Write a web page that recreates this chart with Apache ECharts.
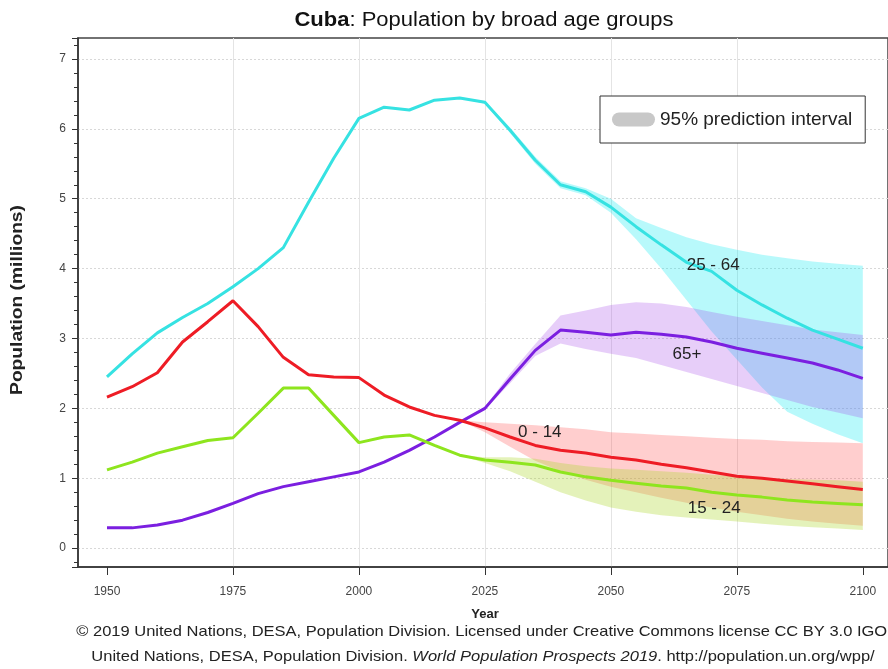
<!DOCTYPE html>
<html><head><meta charset="utf-8">
<script src="https://cdn.jsdelivr.net/npm/echarts@6/dist/echarts.min.js"></script>
<style>html,body{margin:0;padding:0;background:#fff}#c{width:888px;height:669px}</style>
</head><body><div id="c"></div>
<script>
// ---- data ----
const years = [1950,1955,1960,1965,1970,1975,1980,1985,1990,1995,2000,2005,2010,2015,2020,2025,2030,2035,2040,2045,2050,2055,2060,2065,2070,2075,2080,2085,2090,2095,2100];
const age0_14  = [2.16,2.31,2.51,2.95,3.24,3.54,3.17,2.73,2.48,2.45,2.44,2.19,2.02,1.90,1.83,1.72,1.59,1.47,1.40,1.36,1.30,1.26,1.20,1.15,1.09,1.03,1.00,0.96,0.92,0.88,0.84];
const age15_24 = [1.12,1.23,1.36,1.45,1.54,1.58,1.93,2.29,2.29,1.90,1.51,1.59,1.62,1.47,1.33,1.26,1.23,1.19,1.09,1.02,0.97,0.93,0.89,0.86,0.80,0.76,0.73,0.69,0.66,0.64,0.62];
const age25_64 = [2.45,2.78,3.08,3.30,3.50,3.74,4.00,4.30,4.95,5.58,6.15,6.31,6.27,6.41,6.44,6.38,5.98,5.55,5.20,5.10,4.88,4.60,4.34,4.09,3.96,3.69,3.48,3.29,3.12,2.99,2.86];
const age65    = [0.29,0.29,0.33,0.40,0.51,0.64,0.78,0.88,0.95,1.02,1.09,1.23,1.40,1.59,1.80,2.00,2.42,2.83,3.12,3.09,3.05,3.09,3.06,3.02,2.95,2.86,2.79,2.72,2.65,2.55,2.43];

const bandYears = [2020,2025,2030,2035,2040,2045,2050,2055,2060,2065,2070,2075,2080,2085,2090,2095,2100];
const pi25_64_hi = [6.44,6.40,6.02,5.60,5.25,5.15,5.00,4.72,4.58,4.45,4.35,4.27,4.20,4.15,4.10,4.07,4.04];
const pi25_64_lo = [6.44,6.36,5.94,5.50,5.15,5.05,4.80,4.42,4.00,3.55,3.10,2.70,2.30,1.95,1.78,1.63,1.50];
const pi65_hi    = [1.80,2.02,2.50,2.92,3.33,3.40,3.48,3.52,3.50,3.45,3.38,3.31,3.25,3.19,3.13,3.09,3.05];
const pi65_lo    = [1.80,1.98,2.36,2.75,2.93,2.85,2.78,2.72,2.62,2.52,2.42,2.32,2.22,2.12,2.02,1.94,1.86];
const pi0_14_hi  = [1.83,1.80,1.78,1.76,1.73,1.70,1.66,1.64,1.62,1.60,1.58,1.56,1.55,1.53,1.52,1.51,1.50];
const pi0_14_lo  = [1.83,1.66,1.45,1.25,1.10,0.98,0.88,0.80,0.72,0.65,0.58,0.52,0.47,0.42,0.38,0.35,0.32];
const pi15_24_hi = [1.33,1.30,1.30,1.28,1.22,1.17,1.14,1.12,1.10,1.08,1.05,1.03,1.01,0.99,0.98,0.97,0.95];
const pi15_24_lo = [1.33,1.22,1.10,0.95,0.80,0.68,0.58,0.52,0.47,0.44,0.41,0.38,0.35,0.32,0.30,0.28,0.26];

const xTicks = [1950,1975,2000,2025,2050,2075,2100];
const seriesNames = ['0 - 14','15 - 24','25 - 64','65+'];
const legendName = '95% prediction interval';
const titleBold = 'Cuba';
const titleRest = ': Population by broad age groups';
const yName = 'Population (millions)';
const xName = 'Year';
const footer1 = '\u00a9 2019 United Nations, DESA, Population Division. Licensed under Creative Commons license CC BY 3.0 IGO.';
const footer2a = 'United Nations, DESA, Population Division. ';
const footer2b = 'World Population Prospects 2019';
const footer2c = '. http://population.un.org/wpp/';

// ---- chart ----
const FF = 'Liberation Sans, Arial, sans-serif';
const pairs = arr => years.map((y, i) => [y, arr[i]]);

function band(name, lo, hi, color) {
  return {
    type: 'custom', name: name, silent: true, z: 1, clip: true,
    data: [[2050, 3]],
    renderItem: function (params, api) {
      const pts = [];
      for (let i = 0; i < bandYears.length; i++) pts.push(api.coord([bandYears[i], hi[i]]));
      for (let i = bandYears.length - 1; i >= 0; i--) pts.push(api.coord([bandYears[i], lo[i]]));
      return { type: 'polygon', shape: { points: pts }, style: { fill: color } };
    }
  };
}
function line(name, arr, color, at) {
  return {
    type: 'line', name: name, data: pairs(arr), showSymbol: false, z: 3,
    lineStyle: { color: color, width: 3 }, itemStyle: { color: color },
    markPoint: {
      symbol: 'circle', symbolSize: 0, silent: true,
      data: [{ coord: at }],
      label: { show: true, position: 'inside', formatter: name, color: '#222', fontSize: 17, fontFamily: FF }
    }
  };
}

const chart = echarts.init(document.getElementById('c'), null, { renderer: 'canvas' });
chart.setOption({
  animation: false,
  backgroundColor: '#fff',
  grid: { left: 78, right: 0, top: 38, bottom: 102, show: true, borderColor: '#444', borderWidth: 1.5, backgroundColor: 'transparent' },
  legend: {
    left: 600, top: 96, orient: 'horizontal',
    padding: [14, 13, 14, 12],
    borderColor: '#333', borderWidth: 1, backgroundColor: '#fff',
    itemWidth: 43, itemHeight: 14,
    data: [{ name: legendName, icon: 'path://M7,0 L36,0 A7,7 0 0 1 36,14 L7,14 A7,7 0 0 1 7,0 Z' }],
    textStyle: { fontSize: 19, color: '#222', fontFamily: FF },
    selectedMode: false
  },
  xAxis: {
    type: 'value', min: 1944.25, max: 2105,
    axisLine: { show: true, onZero: false, lineStyle: { color: '#333', width: 1.5 } },
    axisTick: { show: true, customValues: xTicks, length: 8, lineStyle: { color: '#333' } },
    axisLabel: { customValues: xTicks, color: '#444', fontSize: 12, fontFamily: FF, margin: 19, formatter: v => String(v) },
    splitLine: { show: true, showMinLine: false, showMaxLine: false, lineStyle: { color: '#e4e4e4', width: 1 } }
  },
  yAxis: {
    type: 'value', min: -0.27, max: 7.3, splitNumber: 8,
    axisLine: { show: true, lineStyle: { color: '#333', width: 1.5 } },
    axisTick: { show: true, length: 6, lineStyle: { color: '#333' } },
    minorTick: { show: true, splitNumber: 5, length: 4, lineStyle: { color: '#333' } },
    axisLabel: {
      color: '#444', fontSize: 12, fontFamily: FF, margin: 12,
      formatter: v => (Math.abs(v - Math.round(v)) < 1e-6 ? String(Math.round(v)) : '')
    },
    splitLine: { show: true, showMinLine: false, showMaxLine: false, lineStyle: { color: '#d8d8d8', type: [2, 2] } }
  },
  graphic: [
    { type: 'text', x: 484, y: 20, scaleX: 1.1, silent: true,
      style: { text: '{b|' + titleBold + '}' + titleRest, align: 'center', verticalAlign: 'middle',
        fontSize: 20, fontFamily: FF, fill: '#111',
        rich: { b: { fontWeight: 'bold', fontSize: 20, fontFamily: FF, fill: '#111' } } } },
    { type: 'text', x: 18, y: 300, rotation: Math.PI / 2, scaleX: 1.2, silent: true,
      style: { text: yName, align: 'center', verticalAlign: 'middle', fontSize: 16, fontWeight: 'bold', fontFamily: FF, fill: '#222' } },
    { type: 'text', x: 485, y: 614, silent: true,
      style: { text: xName, align: 'center', verticalAlign: 'middle', fontSize: 13, fontWeight: 'bold', fontFamily: FF, fill: '#222' } },
    { type: 'text', x: 484, y: 632, scaleX: 1.1, silent: true,
      style: { text: footer1, align: 'center', verticalAlign: 'middle', fontSize: 15, fontFamily: FF, fill: '#222' } },
    { type: 'text', x: 483, y: 657, scaleX: 1.1, silent: true,
      style: { text: footer2a + '{i|' + footer2b + '}' + footer2c, align: 'center', verticalAlign: 'middle', fontSize: 15, fontFamily: FF, fill: '#222',
        rich: { i: { fontStyle: 'italic', fontSize: 15, fontFamily: FF, fill: '#222' } } } }
  ],
  series: [
    band('pi25', pi25_64_lo, pi25_64_hi, 'rgba(0,235,240,0.28)'),
    band('pi65', pi65_lo, pi65_hi, 'rgba(160,60,230,0.25)'),
    band('pi0', pi0_14_lo, pi0_14_hi, 'rgba(255,60,60,0.25)'),
    band('pi15', pi15_24_lo, pi15_24_hi, 'rgba(170,215,40,0.32)'),
    { type: 'line', name: legendName, data: [], itemStyle: { color: '#c8c8c8' }, lineStyle: { color: '#c8c8c8' } },
    line(seriesNames[2], age25_64, '#36e2e2', [2070.3, 4.04]),
    line(seriesNames[3], age65, '#7b1fe0', [2065.1, 2.78]),
    line(seriesNames[0], age0_14, '#ee1c25', [2035.9, 1.66]),
    line(seriesNames[1], age15_24, '#8ee51e', [2070.5, 0.57])
  ]
});
</script>
</body></html>
